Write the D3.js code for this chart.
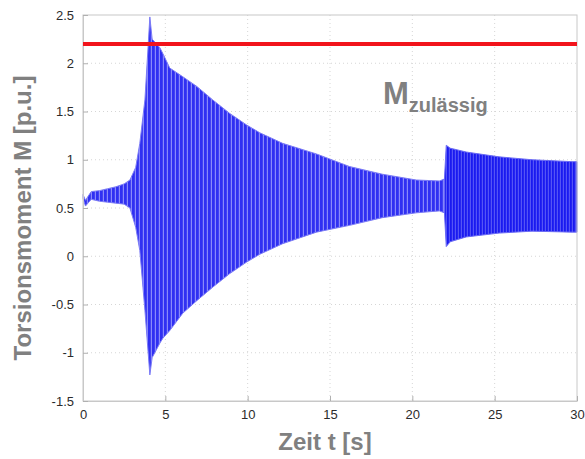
<!DOCTYPE html>
<html>
<head>
<meta charset="utf-8">
<script src="https://cdn.jsdelivr.net/npm/d3@7"></script>
<style>
  html, body { margin: 0; padding: 0; background: #fff; }
  svg { display: block; font-family: "Liberation Sans", Arial, sans-serif; }
</style>
</head>
<body>
<svg id="chart" width="585" height="459"></svg>
<script>
// Torque envelope of the shaft oscillation (time in s, upper / lower bound in p.u.)
const time  = [0, 0.15, 0.5, 1, 1.5, 2, 2.5, 2.85, 3.2, 3.45, 3.76, 4.06, 4.2, 4.36, 4.67, 4.85, 5.27, 6.06, 6.91, 7.88, 8.91, 9.94, 10.73, 12.12, 14.18, 16.18, 18.18, 20.24, 21.64, 21.95, 22.06, 22.3, 23.27, 25.27, 27.27, 29.7, 30];
const upper = [0.64, 0.58, 0.67, 0.68, 0.7, 0.72, 0.75, 0.79, 0.92, 1.17, 1.62, 2.48, 2.25, 2.22, 2.16, 2.1, 1.95, 1.86, 1.76, 1.62, 1.48, 1.36, 1.28, 1.17, 1.06, 0.93, 0.85, 0.79, 0.78, 0.8, 1.15, 1.12, 1.08, 1.03, 1.0, 0.98, 0.98];
const lower = [0.6, 0.52, 0.59, 0.57, 0.56, 0.55, 0.54, 0.5, 0.3, 0.06, -0.56, -1.23, -1.05, -1.0, -0.9, -0.85, -0.77, -0.59, -0.46, -0.32, -0.18, -0.06, 0.02, 0.13, 0.25, 0.32, 0.4, 0.45, 0.47, 0.45, 0.1, 0.15, 0.2, 0.24, 0.26, 0.25, 0.25];

// Permissible torque limit
const mLimit = 2.2;

const xTicks = [0, 5, 10, 15, 20, 25, 30];
const yTicks = [-1.5, -1, -0.5, 0, 0.5, 1, 1.5, 2, 2.5];

const svg = d3.select("#chart");
const plotL = 83, plotR = 577, plotT = 15, plotB = 401;

const x = d3.scaleLinear().domain([0, 30]).range([plotL, plotR]);
const y = d3.scaleLinear().domain([-1.5, 2.5]).range([plotB, plotT]);

const data = time.map((t, i) => ({ t, hi: upper[i], lo: lower[i] }));

// Stripe patterns give the dense oscillation its streaky look
const defs = svg.append("defs");
function stripes(id, base, light, w) {
  const p = defs.append("pattern").attr("id", id).attr("patternUnits", "userSpaceOnUse")
    .attr("width", w).attr("height", 10);
  p.append("rect").attr("width", w).attr("height", 10).attr("fill", base);
  p.append("rect").attr("x", w - 1.2).attr("width", 1.2).attr("height", 10).attr("fill", light);
}
stripes("waveA", "#3030f2", "#8a8afa", 4);
stripes("waveB", "#1a1af0", "#5555f5", 3);

// Grid (dotted)
const grid = svg.append("g").attr("stroke", "#d6d6d6").attr("stroke-dasharray", "1,3").attr("stroke-width", 1);
xTicks.slice(1, -1).forEach(v => grid.append("line").attr("x1", x(v)).attr("x2", x(v)).attr("y1", plotT).attr("y2", plotB));
yTicks.slice(1, -1).forEach(v => grid.append("line").attr("x1", plotL).attr("x2", plotR).attr("y1", y(v)).attr("y2", y(v)));

// Signal envelope
const area = d3.area().x(d => x(d.t)).y0(d => y(d.lo)).y1(d => y(d.hi));
svg.append("path").datum(data.filter(d => d.t <= 21.95))
  .attr("d", area).attr("fill", "url(#waveA)").attr("stroke", "#7b7bf6").attr("stroke-width", 1);
svg.append("path").datum(data.filter(d => d.t >= 21.95))
  .attr("d", area).attr("fill", "url(#waveB)").attr("stroke", "#6a6af5").attr("stroke-width", 1);

// Frame
svg.append("rect").attr("x", plotL).attr("y", plotT).attr("width", plotR - plotL).attr("height", plotB - plotT)
  .attr("fill", "none").attr("stroke", "#c8c8c8").attr("stroke-width", 1);

// Axes with inward ticks
const xAxis = d3.axisBottom(x).tickValues(xTicks).tickSizeInner(-5).tickSizeOuter(0).tickPadding(9).tickFormat(d3.format("d"));
const yAxis = d3.axisLeft(y).tickValues(yTicks).tickSizeInner(-5).tickSizeOuter(0).tickPadding(9).tickFormat(d => String(d));

const gx = svg.append("g").attr("transform", `translate(0,${plotB})`).call(xAxis);
const gy = svg.append("g").attr("transform", `translate(${plotL},0)`).call(yAxis);
[gx, gy].forEach(g => {
  g.select(".domain").attr("stroke", "#c8c8c8");
  g.selectAll(".tick line").attr("stroke", "#b0b0b0");
  g.selectAll(".tick text").attr("fill", "#2b2b2b").attr("font-size", 13)
    .attr("font-family", "Liberation Sans, Arial, sans-serif");
});

// Limit line
svg.append("line").attr("x1", plotL).attr("x2", plotR).attr("y1", y(mLimit)).attr("y2", y(mLimit))
  .attr("stroke", "#f2141c").attr("stroke-width", 4);

// Limit label
const lbl = svg.append("text").attr("x", 383).attr("y", 104).attr("fill", "#808080").attr("font-weight", "bold");
lbl.append("tspan").attr("font-size", 31).text("M");
lbl.append("tspan").attr("font-size", 20).attr("dy", 8).text("zulässig");

// Axis titles
svg.append("text").attr("x", 325).attr("y", 450).attr("text-anchor", "middle")
  .attr("font-size", 24).attr("font-weight", "bold").attr("fill", "#808080").text("Zeit t [s]");
svg.append("text").attr("transform", "translate(31,218) rotate(-90)").attr("text-anchor", "middle")
  .attr("font-size", 24).attr("font-weight", "bold").attr("fill", "#808080").text("Torsionsmoment M [p.u.]");
</script>
</body>
</html>
